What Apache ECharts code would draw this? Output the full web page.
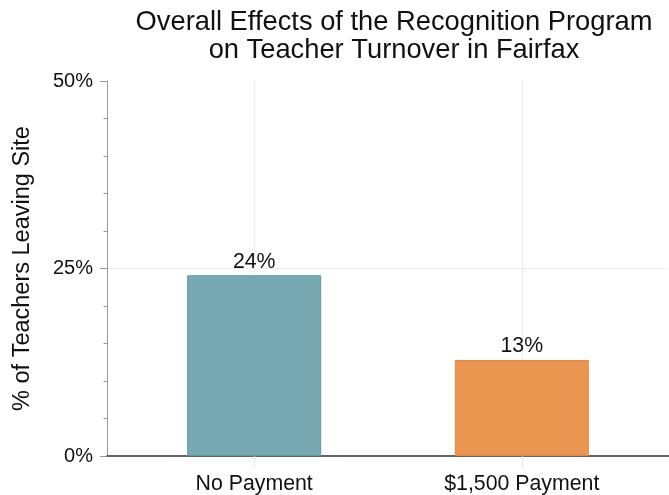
<!DOCTYPE html>
<html><head><meta charset="utf-8">
<script src="https://cdn.jsdelivr.net/npm/echarts@6/dist/echarts.min.js"></script>
<style>html,body{margin:0;padding:0;background:#fff}#c{width:669px;height:495px}</style>
</head><body><div id="c"></div>
<script>
var categories = ["No Payment", "$1,500 Payment"];
var values = [24.1, 12.8];
var yTicks = [0, 25, 50];
var titleText = "Overall Effects of the Recognition Program\non Teacher Turnover in Fairfax";
var yName = "% of Teachers Leaving Site";

var fills = ["#78a8b2", "#ea9651"];
var borders = ["#5b9ba5", "#e9883a"];
var FONT = "Liberation Sans";

var chart = echarts.init(document.getElementById('c'), null, {renderer: 'canvas'});
var positions = categories.map(function(c, i){ return i + 1; });
chart.setOption({
  animation: false,
  title: {
    text: titleText, left: 389, top: 3, textAlign: 'center',
    textStyle: {fontFamily: FONT, fontSize: 27.3, fontWeight: 'normal', color: '#111', lineHeight: 28.5}
  },
  grid: {left: 107, right: 0, top: 81, bottom: 39, containLabel: false},
  xAxis: {
    type: 'value', min: 0.45, max: 2.55,
    axisLine: {show: true, onZero: false, lineStyle: {color: '#333', width: 1.5}},
    axisTick: {show: true, customValues: positions, length: 11, lineStyle: {color: '#ccc', type: 'dotted'}},
    axisLabel: {show: true, customValues: positions, margin: 18, fontFamily: FONT, fontSize: 21.3, color: '#111',
      formatter: function(v){ return categories[Math.round(v) - 1] || ''; }},
    splitLine: {show: false}
  },
  yAxis: {
    type: 'value', min: 0, max: 50, interval: 25,
    name: yName, nameLocation: 'middle', nameGap: 72,
    nameTextStyle: {fontFamily: FONT, fontSize: 23.5, color: '#111'},
    axisLine: {show: true, lineStyle: {color: '#999'}},
    axisTick: {show: true, length: 7, lineStyle: {color: '#999'}},
    minorTick: {show: true, splitNumber: 5, length: 3.5, lineStyle: {color: '#999'}},
    axisLabel: {margin: 14, fontFamily: FONT, fontSize: 20, color: '#111',
      formatter: function(v){ return yTicks.indexOf(v) >= 0 ? v + '%' : ''; }},
    splitLine: {show: true, showMaxLine: false, showMinLine: false, lineStyle: {color: '#ddd', type: 'dotted', width: 1}}
  },
  series: [{
    type: 'bar', barWidth: 134,
    data: values.map(function(v, i){
      return {value: [positions[i], v], itemStyle: {color: fills[i], borderColor: borders[i], borderWidth: 1}};
    }),
    label: {show: true, position: 'top', distance: 3, fontFamily: FONT, fontSize: 21.3, color: '#111',
      formatter: function(p){ return Math.round(p.value[1]) + '%'; }},
    markLine: {
      silent: true, symbol: 'none', label: {show: false}, z: 0,
      lineStyle: {color: '#ddd', type: 'dotted', width: 1},
      data: positions.map(function(p){ return {xAxis: p}; })
    },
    z: 2
  }]
});
</script></body></html>
